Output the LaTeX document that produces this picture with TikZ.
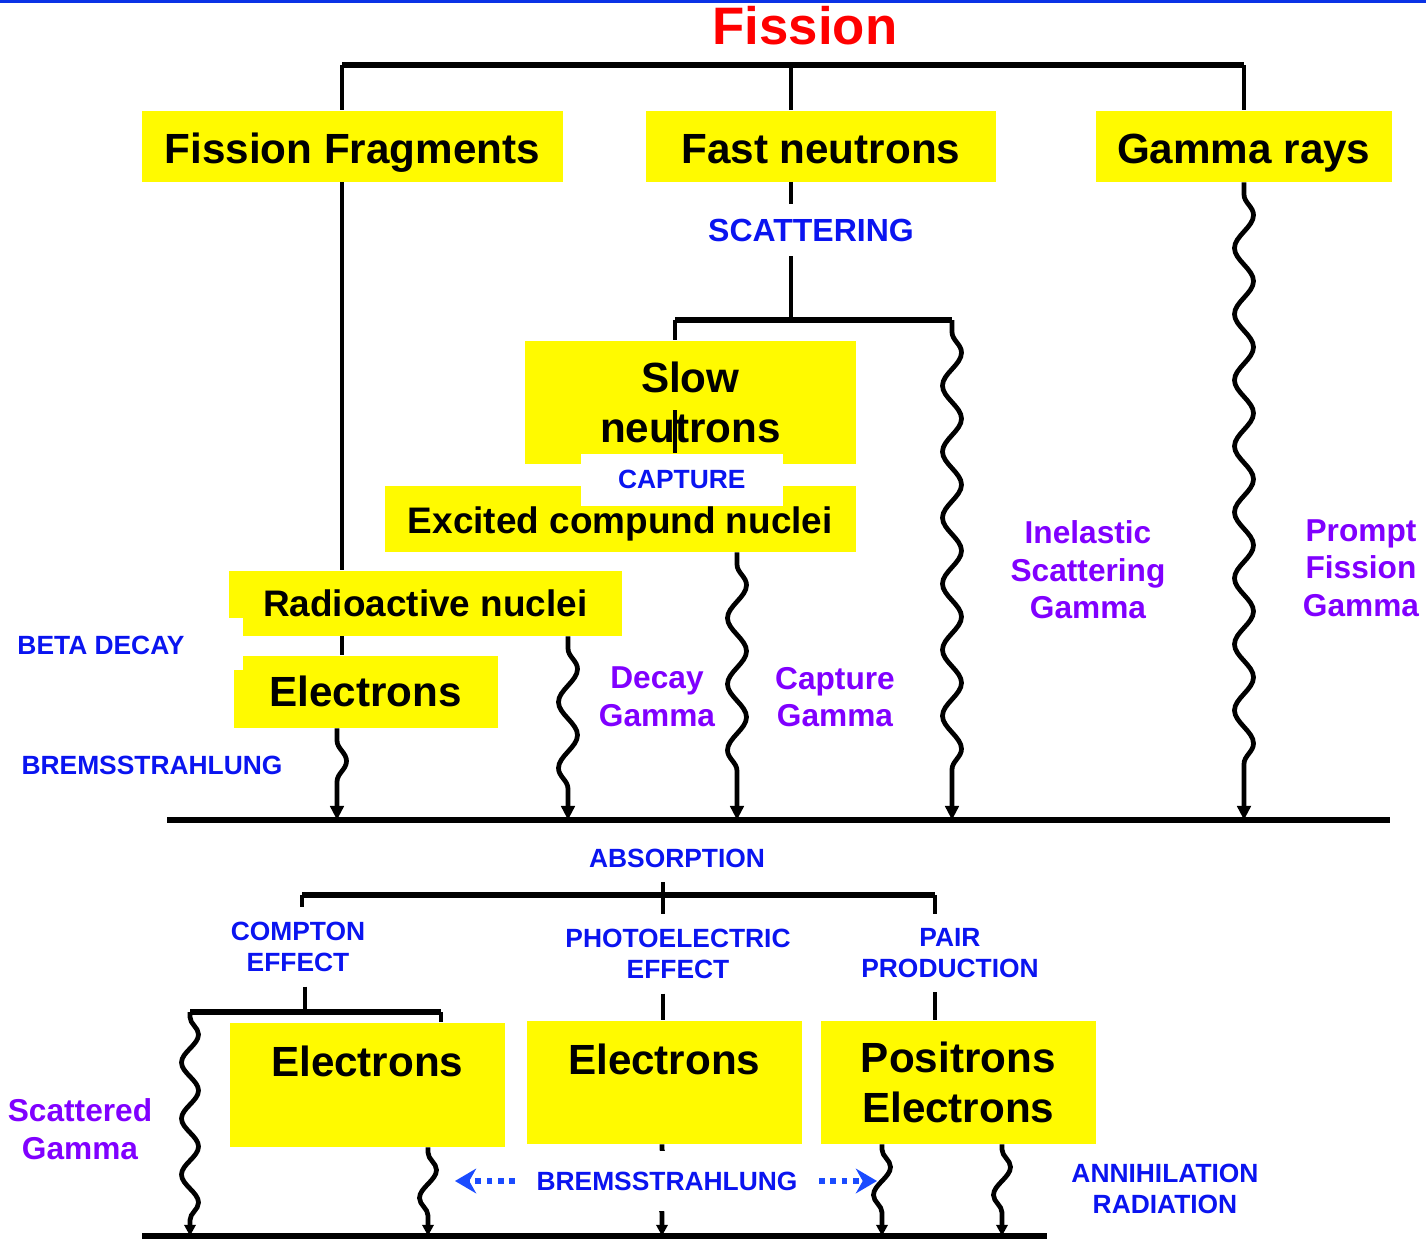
\documentclass[tikz,border=0pt]{standalone}
\usepackage{fontspec}
\setmainfont{Liberation Sans}
\usetikzlibrary{arrows.meta,decorations.pathmorphing}
\definecolor{cBox}{HTML}{FFFA00}
\definecolor{cProc}{HTML}{0A14F0}
\definecolor{cGam}{HTML}{8000FF}
\definecolor{cTitle}{HTML}{FF0000}
\definecolor{cDot}{HTML}{1A4BFF}
\definecolor{cEdge}{HTML}{0A32E6}
\tikzset{
  box/.style ={fill=cBox, inner sep=0pt, align=center, anchor=north west,
               font=\bfseries\fontsize{12}{14.2}\selectfont},
  mbox/.style={box, font=\bfseries\fontsize{10.5}{12.6}\selectfont},
  proc/.style={text=cProc, align=center, inner sep=4pt,
               font=\bfseries\fontsize{7.5}{8.8}\selectfont},
  gam/.style ={text=cGam, align=center, font=\bfseries\fontsize{9}{10.7}\selectfont},
  link/.style={line width=1.2pt},
  bar/.style ={line width=1.6pt},
  photon/.style={line width=1.35pt, -{Triangle[length=4pt,width=3.8pt]}, decorate,
                 decoration={snake, amplitude=0.095cm, segment length=0.66cm,
                             pre length=0.12cm, post length=0.3cm}},
  sphoton/.style={photon, -{Triangle[length=3.2pt,width=3.2pt]},
                 decoration={snake, amplitude=0.085cm, segment length=0.56cm,
                             pre length=0.05cm, post length=0.15cm}},
  dotarrow/.style={line width=1.6pt, cDot, dash pattern=on 1.6pt off 1.6pt,
                   -{Stealth[length=6pt,width=7pt]}},
}

\begin{document}
\begin{tikzpicture}[x=0.01cm, y=-0.01cm]
  \useasboundingbox (0,0) rectangle (1426,1239);
  \draw[cEdge, line width=1pt] (0,1) -- (1426,1);

  % fission and its three products
  \node[text=cTitle, font=\bfseries\fontsize{15}{18}\selectfont] (fis) at (805,26) {Fission};
  \node[box, minimum width=4.21cm, text height=0.53cm, text depth=0.18cm] (frag) at (141,110) {Fission Fragments};
  \node[box, minimum width=3.50cm, text height=0.53cm, text depth=0.18cm] (fast) at (645,110) {Fast neutrons};
  \node[box, minimum width=2.96cm, text height=0.53cm, text depth=0.18cm] (gray) at (1095,110) {Gamma rays};
  \coordinate (tl) at (342,65); \coordinate (tm) at (791,65); \coordinate (tr) at (1244,65);
  \draw[bar] (tl) -- (tr);
  \draw[link] (tl) -- (frag.north -| tl);
  \draw[link] (tm) -- (fast.north -| tm);
  \draw[link] (tr) -- (gray.north -| tr);

  % neutron branch
  \node[proc, font=\bfseries\fontsize{9.1}{11}\selectfont] (scat) at (811,230) {SCATTERING};
  \coordinate (sn) at (791,320); \coordinate (sl) at (675,320); \coordinate (sr) at (952,320);
  \draw[link] (fast.south -| sn) -- (scat.north -| sn);
  \draw[link] (scat.south -| sn) -- (sn);
  \draw[bar] (sl) -- (sr);
  \node[box, minimum width=3.31cm, minimum height=1.23cm] (slow) at (524,340) {Slow\\neutrons};
  \node[mbox, minimum width=4.71cm, text height=0.48cm, text depth=0.18cm] (exc) at (384,485) {Excited compund nuclei};
  \node[proc, fill=white, anchor=north west, inner sep=0pt,
        minimum width=2.02cm, minimum height=0.52cm] (capt) at (580,453) {CAPTURE};
  \draw[link] (sl) -- (slow.north -| sl);
  \draw[link] (sl |- 0,410) -- (sl |- capt.north);

  % fragment branch
  \node[mbox, minimum width=3.93cm, minimum height=0.65cm] (rad) at (228,570) {Radioactive nuclei};
  \fill[white] (rad.south west) rectangle +(15,-18);
  \node[box, minimum width=2.64cm, minimum height=0.72cm] (elec) at (233,655) {Electrons};
  \fill[white] (elec.north west) rectangle +(10,15);
  \draw[link] (frag.south -| tl) -- (rad.north -| tl);
  \draw[link] (rad.south -| tl) -- (elec.north -| tl);
  \node[proc] (beta) at (101,645) {BETA DECAY};
  \node[proc] (brem1) at (152,765) {BREMSSTRAHLUNG};

  % gamma sources
  \coordinate (al) at (167,820); \coordinate (ar) at (1390,820);
  \coordinate (bx) at (337,820); \coordinate (dx) at (568,820); \coordinate (cx) at (737,820);
  \draw[bar] (al) -- (ar);
  \draw[photon] (elec.south -| bx) -- (bx);
  \draw[photon] (rad.south -| dx) -- (dx);
  \draw[photon] (exc.south -| cx) -- (cx);
  \draw[photon] (sr) -- (sr |- al);
  \draw[photon] (gray.south -| tr) -- (tr |- al);
  \node[gam] (dgam) at (657,697) {Decay\\Gamma};
  \node[gam] (cgam) at (835,697) {Capture\\Gamma};
  \node[gam] (igam) at (1088,570) {Inelastic\\Scattering\\Gamma};
  \node[gam] (pgam) at (1361,568) {Prompt\\Fission\\Gamma};

  % absorption
  \node[proc] (abs) at (677,858) {ABSORPTION};
  \coordinate (ml) at (302,895); \coordinate (mm) at (663,895); \coordinate (mr) at (935,895);
  \draw[bar] (ml) -- (mr);
  \node[proc] (comp) at (298,947) {COMPTON\\EFFECT};
  \node[proc] (phot) at (678,954) {PHOTOELECTRIC\\EFFECT};
  \node[proc] (pair) at (950,953) {PAIR\\PRODUCTION};
  \draw[link] (abs.south -| mm) -- (phot.north -| mm);
  \draw[link] (ml) -- (comp.north -| ml);
  \draw[link] (mr) -- (pair.north -| mr);

  \node[box, minimum width=2.75cm, text height=0.54cm, text depth=0.70cm] (el1) at (229,1022) {Electrons};
  \node[box, minimum width=2.75cm, text height=0.54cm, text depth=0.69cm] (el2) at (526,1020) {Electrons};
  \node[box, minimum width=2.75cm, minimum height=1.23cm] (pos) at (820,1020) {Positrons\\Electrons};
  \coordinate (cl) at (190,1012); \coordinate (cm) at (305,1012); \coordinate (cr) at (441,1012);
  \draw[link] (comp.south -| cm) -- (cm);
  \draw[bar] (cl) -- (cr);
  \draw[link] (cr) -- (el1.north -| cr);
  \draw[link] (phot.south -| mm) -- (el2.north -| mm);
  \draw[link] (pair.south -| mr) -- (pos.north -| mr);

  % secondary radiation
  \coordinate (bl) at (142,1236); \coordinate (br) at (1047,1236);
  \coordinate (e1x) at (428,1236); \coordinate (e2x) at (662,1236);
  \coordinate (p1x) at (882,1236); \coordinate (p2x) at (1002,1236);
  \draw[bar] (bl) -- (br);
  \draw[sphoton] (cl) -- (cl |- bl);
  \draw[sphoton] (el1.south -| e1x) -- (e1x);
  \draw[sphoton] (el2.south -| e2x) -- (e2x);
  \draw[sphoton] (pos.south -| p1x) -- (p1x);
  \draw[sphoton] (pos.south -| p2x) -- (p2x);
  \node[proc, fill=white, inner sep=6pt] (brem2) at (667,1181) {BREMSSTRAHLUNG};
  \coordinate (la) at (455,1183); \coordinate (ra) at (877,1183);
  \draw[dotarrow] (brem2.west) -- (brem2.west -| la);
  \draw[dotarrow] (brem2.east) -- (brem2.east -| ra);
  \node[gam] (sgam) at (80,1129) {Scattered\\Gamma};
  \node[proc] (ann) at (1165,1189) {ANNIHILATION\\RADIATION};
\end{tikzpicture}
\end{document}
